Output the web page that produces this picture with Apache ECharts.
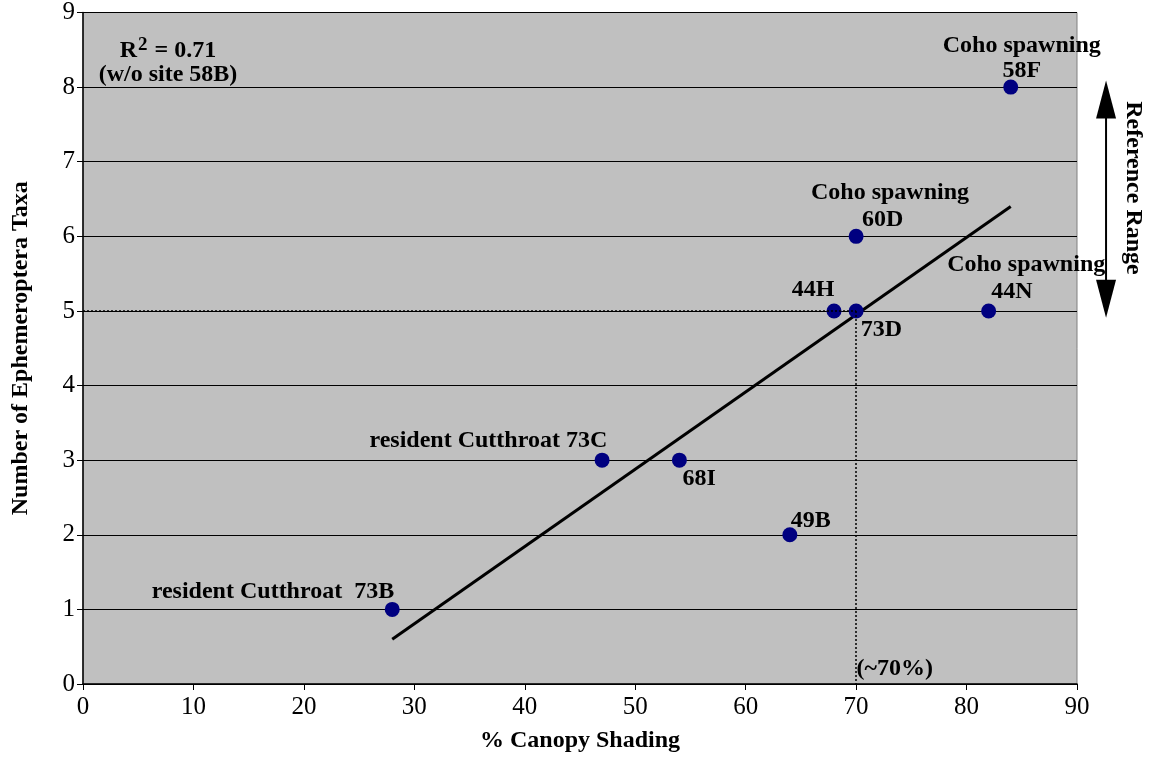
<!DOCTYPE html>
<html><head><meta charset="utf-8">
<script src="https://cdn.jsdelivr.net/npm/echarts@6/dist/echarts.min.js"></script>
<style>html,body{margin:0;padding:0;background:#fff}#c{width:1151px;height:758px}</style>
</head><body><div id="c"></div>
<script>
// Data
const sites = ['73B','73C','68I','49B','44H','73D','60D','44N','58F'];
const canopy = [28, 47, 54, 64, 68, 70, 70, 82, 84];
const ephemTaxa = [1, 3, 3, 2, 5, 5, 6, 5, 8];
const trendX = [28, 84];
const trendY = [0.6, 6.4];
const xTicks = [0,10,20,30,40,50,60,70,80,90];
const yTicks = [0,1,2,3,4,5,6,7,8,9];
const refRange = [4.91, 8.09];
const refRangeX = 92.63;
const threshold = { x: 70, y: 5 };
// Annotation texts with anchor in data units
const annText = ['Coho spawning','58F','Coho spawning','60D','Coho spawning','44N','44H','73D',
  'resident Cutthroat 73C','68I','49B','resident Cutthroat  73B','(~70%)','{b|R}{s|2}{b| = 0.71}','(w/o site 58B)'];
const annX = [85.0, 85.0, 73.07, 72.4, 85.4, 84.1, 66.1, 72.3, 36.7, 55.8, 65.9, 17.2, 73.5, 7.7, 7.7];
const annY = [8.56, 8.22, 6.58, 6.22, 5.62, 5.26, 5.28, 4.75, 3.26, 2.75, 2.19, 1.23, 0.2, 8.49, 8.16];

const FONT = '"Liberation Serif", "Times New Roman", serif';
const chart = echarts.init(document.getElementById('c'), null, {renderer:'canvas'});
const pts = canopy.map((x,i)=>[x, ephemTaxa[i], sites[i]]);
const ann = annText.map((t,i)=>({value:[annX[i], annY[i]], name:t}));

function arrowRender(params, api){
  const top = api.coord([api.value(0), api.value(1)]);
  const bot = api.coord([api.value(0), api.value(2)]);
  const x = top[0], hw = 10, hl = 38;
  return {type:'group', children:[
    {type:'line', shape:{x1:x, y1:top[1]+hl-2, x2:x, y2:bot[1]-hl+2}, style:{stroke:'#000', lineWidth:2}},
    {type:'polygon', shape:{points:[[x,top[1]],[x-hw,top[1]+hl],[x+hw,top[1]+hl]]}, style:{fill:'#000'}},
    {type:'polygon', shape:{points:[[x,bot[1]],[x-hw,bot[1]-hl],[x+hw,bot[1]-hl]]}, style:{fill:'#000'}}
  ]};
}

chart.setOption({
  animation:false,
  backgroundColor:'#fff',
  grid:{left:83, right:74, top:12, bottom:73, show:true, backgroundColor:'#c0c0c0', borderColor:'#808080', borderWidth:1},
  xAxis:{type:'value', min:xTicks[0], max:xTicks[xTicks.length-1], interval:10,
    name:'% Canopy Shading', nameLocation:'middle', nameGap:45,
    nameTextStyle:{fontFamily:FONT, fontWeight:'bold', fontSize:24, color:'#000'},
    axisLine:{show:true, onZero:false, lineStyle:{color:'#000', width:1.5}},
    axisTick:{show:true, inside:false, length:6, lineStyle:{color:'#000'}},
    axisLabel:{fontFamily:FONT, fontSize:25, color:'#000', margin:11},
    splitLine:{show:false}},
  yAxis:{type:'value', min:yTicks[0], max:yTicks[yTicks.length-1], interval:1,
    name:'Number of Ephemeroptera Taxa', nameLocation:'middle', nameGap:50,
    nameTextStyle:{fontFamily:FONT, fontWeight:'bold', fontSize:24, color:'#000'},
    axisLine:{show:true, onZero:false, lineStyle:{color:'#000', width:1.5}},
    axisTick:{show:true, inside:false, length:6, lineStyle:{color:'#000'}},
    axisLabel:{fontFamily:FONT, fontSize:25, color:'#000', margin:8},
    splitLine:{show:true, lineStyle:{color:'#000', width:1}}},
  series:[
    {type:'line', data:trendX.map((x,i)=>[x,trendY[i]]), symbol:'none', lineStyle:{color:'#000', width:3}, z:3,
     markLine:{silent:true, symbol:'none', label:{show:false}, lineStyle:{color:'#000', type:[2,2], width:1.5},
       data:[[{coord:[0,threshold.y]},{coord:[threshold.x,threshold.y]}],[{coord:[threshold.x,threshold.y]},{coord:[threshold.x,0]}]]}},
    {type:'scatter', data:pts, symbolSize:15, itemStyle:{color:'#000080', opacity:1}, z:4},
    {type:'scatter', data:ann, symbolSize:0, clip:false, silent:true, z:5, itemStyle:{opacity:1},
     label:{show:true, position:'inside', formatter:p=>p.name, fontFamily:FONT, fontWeight:'bold', fontSize:24, color:'#000',
       rich:{b:{fontFamily:FONT, fontWeight:'bold', fontSize:24, color:'#000'}, s:{fontFamily:FONT, fontWeight:'bold', fontSize:19, color:'#000', verticalAlign:'top', padding:[0,1,10,1]}}}},
    {type:'custom', clip:false, silent:true, z:6, data:[[refRangeX, refRange[1], refRange[0]]], renderItem:arrowRender}
  ],
  graphic:[{type:'text', x:1133, y:188, rotation:-Math.PI/2,
    style:{text:'Reference Range', fill:'#000', font:'bold 24px '+FONT, align:'center', verticalAlign:'middle'}}]
});
</script></body></html>
